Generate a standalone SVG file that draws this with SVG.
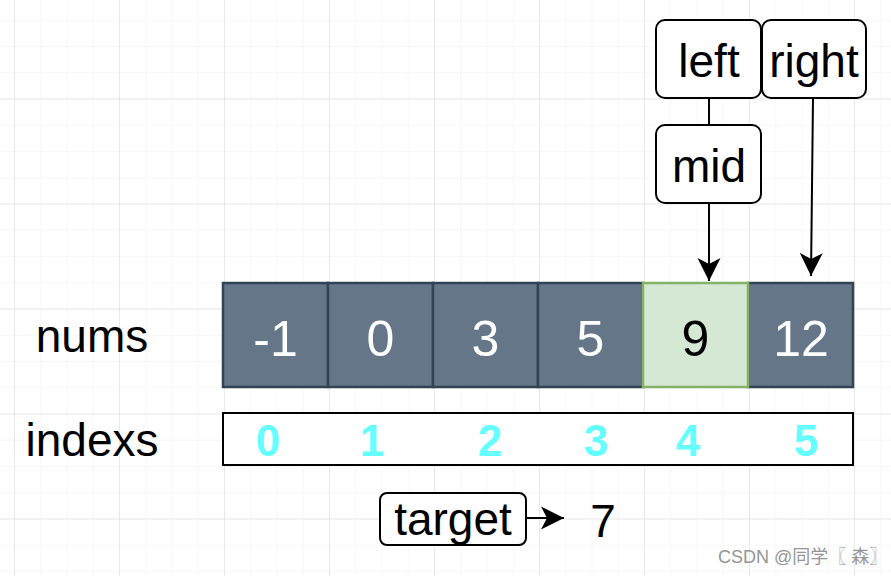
<svg xmlns="http://www.w3.org/2000/svg" width="891" height="576" viewBox="0 0 891 576">
<style>
.lbl{font-family:"Liberation Sans",Arial,sans-serif;font-size:46px;fill:#000;text-anchor:middle}
.num{font-family:"Liberation Sans",Arial,sans-serif;font-size:50px;fill:#fff;text-anchor:middle}
.num9{font-family:"Liberation Sans",Arial,sans-serif;font-size:50px;fill:#000;text-anchor:middle}
.idx{font-family:"Liberation Sans",Arial,sans-serif;font-size:44px;font-weight:bold;fill:#66FFFF;text-anchor:middle}
.cell{fill:#647687;stroke:#314354;stroke-width:2.5}
.hl{fill:#d5e8d4;stroke:#82b366;stroke-width:2.5}
.box{fill:#fff;stroke:#000;stroke-width:2}
.edge{fill:none;stroke:#000;stroke-width:2}
</style>
<defs>
<pattern id="minor" x="14" y="19.75" width="26.25" height="26.25" patternUnits="userSpaceOnUse">
<path d="M0 0V26.25M0 0H26.25" fill="none" stroke="#f0f0f0" stroke-width="1"/>
</pattern>
<pattern id="major" x="14" y="98.5" width="105" height="105" patternUnits="userSpaceOnUse">
<path d="M0 0V105M0 0H105" fill="none" stroke="#dcdcdc" stroke-width="1"/>
</pattern>
<marker id="arr" markerWidth="26" markerHeight="26" viewBox="0 0 26 26" refX="24" refY="13" orient="auto" markerUnits="userSpaceOnUse">
<path d="M1 1.5 L24 13 L1 24.5 L7 13 Z" fill="#000"/>
</marker>
</defs>
<rect width="891" height="576" fill="#fff"/>
<rect width="891" height="576" fill="url(#minor)"/>
<rect width="891" height="576" fill="url(#major)"/>

<g id="connectors">
<path class="edge" d="M709 98 V125"/>
<path class="edge" d="M709 203 V281" marker-end="url(#arr)"/>
<path class="edge" d="M813 98 L811 276" marker-end="url(#arr)"/>
<path class="edge" d="M526 518 H564" marker-end="url(#arr)"/>
</g>

<g id="label-nums"><text class="lbl" x="92" y="352">nums</text></g>
<g id="label-indexs"><text class="lbl" x="92" y="456">indexs</text></g>

<g id="array">
<g id="cell0"><rect class="cell" x="223" y="283" width="105" height="104"/><text class="num" x="275.5" y="356">-1</text></g>
<g id="cell1"><rect class="cell" x="328" y="283" width="105" height="104"/><text class="num" x="380.5" y="356">0</text></g>
<g id="cell2"><rect class="cell" x="433" y="283" width="105" height="104"/><text class="num" x="485.5" y="356">3</text></g>
<g id="cell3"><rect class="cell" x="538" y="283" width="105" height="104"/><text class="num" x="590.5" y="356">5</text></g>
<g id="cell5"><rect class="cell" x="748" y="283" width="105" height="104"/><text class="num" x="801" y="356">12</text></g>
<g id="cell4"><rect class="hl" x="643" y="283" width="105" height="104"/><text class="num9" x="695.5" y="356">9</text></g>
</g>

<g id="indexes">
<rect class="box" x="223" y="413" width="630" height="52"/>
<text class="idx" x="268" y="456">0</text>
<text class="idx" x="372" y="456">1</text>
<text class="idx" x="490" y="456">2</text>
<text class="idx" x="596" y="456">3</text>
<text class="idx" x="688" y="456">4</text>
<text class="idx" x="806" y="456">5</text>
</g>

<g id="left"><rect class="box" x="656" y="20" width="105" height="78" rx="9"/><text class="lbl" x="709" y="77">left</text></g>
<g id="right"><rect class="box" x="762" y="20" width="104" height="78" rx="9"/><text class="lbl" x="814" y="77">right</text></g>
<g id="mid"><rect class="box" x="656" y="125" width="105" height="78" rx="9"/><text class="lbl" x="709" y="182">mid</text></g>

<g id="target"><rect class="box" x="380" y="493" width="146" height="52" rx="7"/><text class="lbl" x="453" y="535">target</text></g>
<g id="value7"><text class="lbl" x="603" y="537">7</text></g>

<text x="718" y="563" font-family="Liberation Sans,'Noto Sans CJK SC',sans-serif" font-size="18" fill="#8a8a8a" opacity="0.9">CSDN @同学〖 森〗</text>
</svg>
